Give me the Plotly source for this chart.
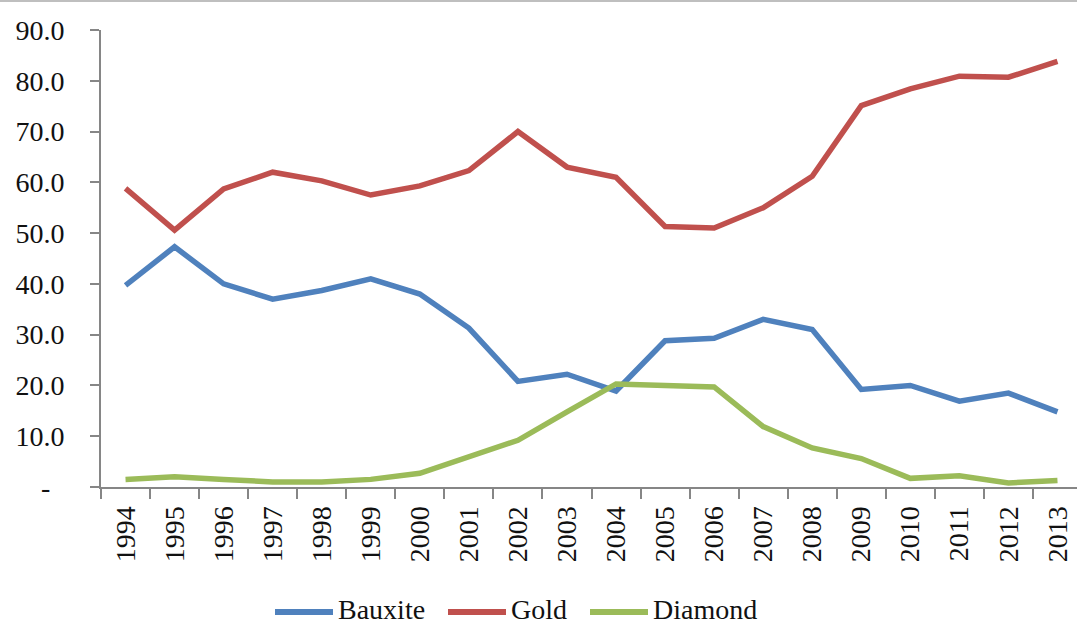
import plotly.graph_objects as go

years = [str(y) for y in range(1994, 2014)]
bauxite = [39.7, 47.3, 40.0, 37.0, 38.7, 41.0, 38.0, 31.3, 20.8, 22.2,
           18.9, 28.8, 29.3, 33.0, 31.0, 19.2, 20.0, 16.9, 18.5, 14.8]
gold = [58.8, 50.6, 58.7, 62.0, 60.3, 57.5, 59.3, 62.3, 70.0, 63.0,
        61.0, 51.3, 51.0, 55.0, 61.2, 75.1, 78.4, 80.9, 80.7, 83.8]
diamond = [1.5, 2.0, 1.5, 1.0, 1.0, 1.5, 2.7, 6.0, 9.2, 14.8,
           20.3, 20.0, 19.7, 11.9, 7.7, 5.6, 1.7, 2.2, 0.8, 1.3]
series_names = ["Bauxite", "Gold", "Diamond"]
colors = ["#4F81BD", "#C0504D", "#9BBB59"]
y_tickvals = [0, 10, 20, 30, 40, 50, 60, 70, 80, 90]
y_ticktext = ["-\u00a0\u00a0", "10.0", "20.0", "30.0", "40.0", "50.0", "60.0", "70.0", "80.0", "90.0"]

W, H = 1077, 625
L, T, B = 101, 30, 138
R = 0
pw = W - L - R
ph = H - T - B

def px(x):
    return (x - L) / pw

def py(y):
    return (H - B - y) / ph

fig = go.Figure()
for name, vals, c in zip(series_names, [bauxite, gold, diamond], colors):
    fig.add_trace(go.Scatter(x=years, y=vals, mode="lines", name=name,
                             line=dict(color=c, width=5.5), showlegend=False))

font = "Liberation Serif, Times New Roman, serif"
axis_col = "#868686"

fig.update_layout(
    width=W, height=H,
    margin=dict(l=L, r=R, t=T, b=B, pad=0),
    paper_bgcolor="white", plot_bgcolor="white",
    font=dict(family=font, size=28, color="#111111"),
    xaxis=dict(type="category", range=[-0.5, -0.5 + pw / 49.05],
               showgrid=False, showline=True, linecolor=axis_col, linewidth=2,
               ticks="outside", tickson="boundaries", ticklen=10, tickwidth=2,
               tickcolor=axis_col, tickangle=-90, tickfont=dict(size=28),
               ticklabelstandoff=6),
    yaxis=dict(range=[0, 90], tickvals=y_tickvals, ticktext=y_ticktext,
               showgrid=False, showline=True, linecolor=axis_col, linewidth=2,
               ticks="outside", ticklen=9, tickwidth=2, tickcolor=axis_col,
               tickfont=dict(size=28), zeroline=False, ticklabelstandoff=20),
)

# top border line
fig.add_shape(type="line", xref="paper", yref="paper",
              x0=px(0), x1=px(W), y0=py(1), y1=py(1),
              line=dict(color="#BFBFBF", width=2))

# manual legend
leg_x = [275, 448, 590]
for name, c, x0 in zip(series_names, colors, leg_x):
    fig.add_shape(type="line", xref="paper", yref="paper",
                  x0=px(x0), x1=px(x0 + 58), y0=py(612), y1=py(612),
                  line=dict(color=c, width=6))
    fig.add_annotation(xref="paper", yref="paper", x=px(x0 + 61), y=py(609),
                       text=name, showarrow=False, xanchor="left", yanchor="middle",
                       font=dict(family=font, size=28, color="#111111"))

fig.write_html("out.html", config={"displayModeBar": False},
               post_script="document.body.style.margin='0';document.body.style.overflow='hidden';")
